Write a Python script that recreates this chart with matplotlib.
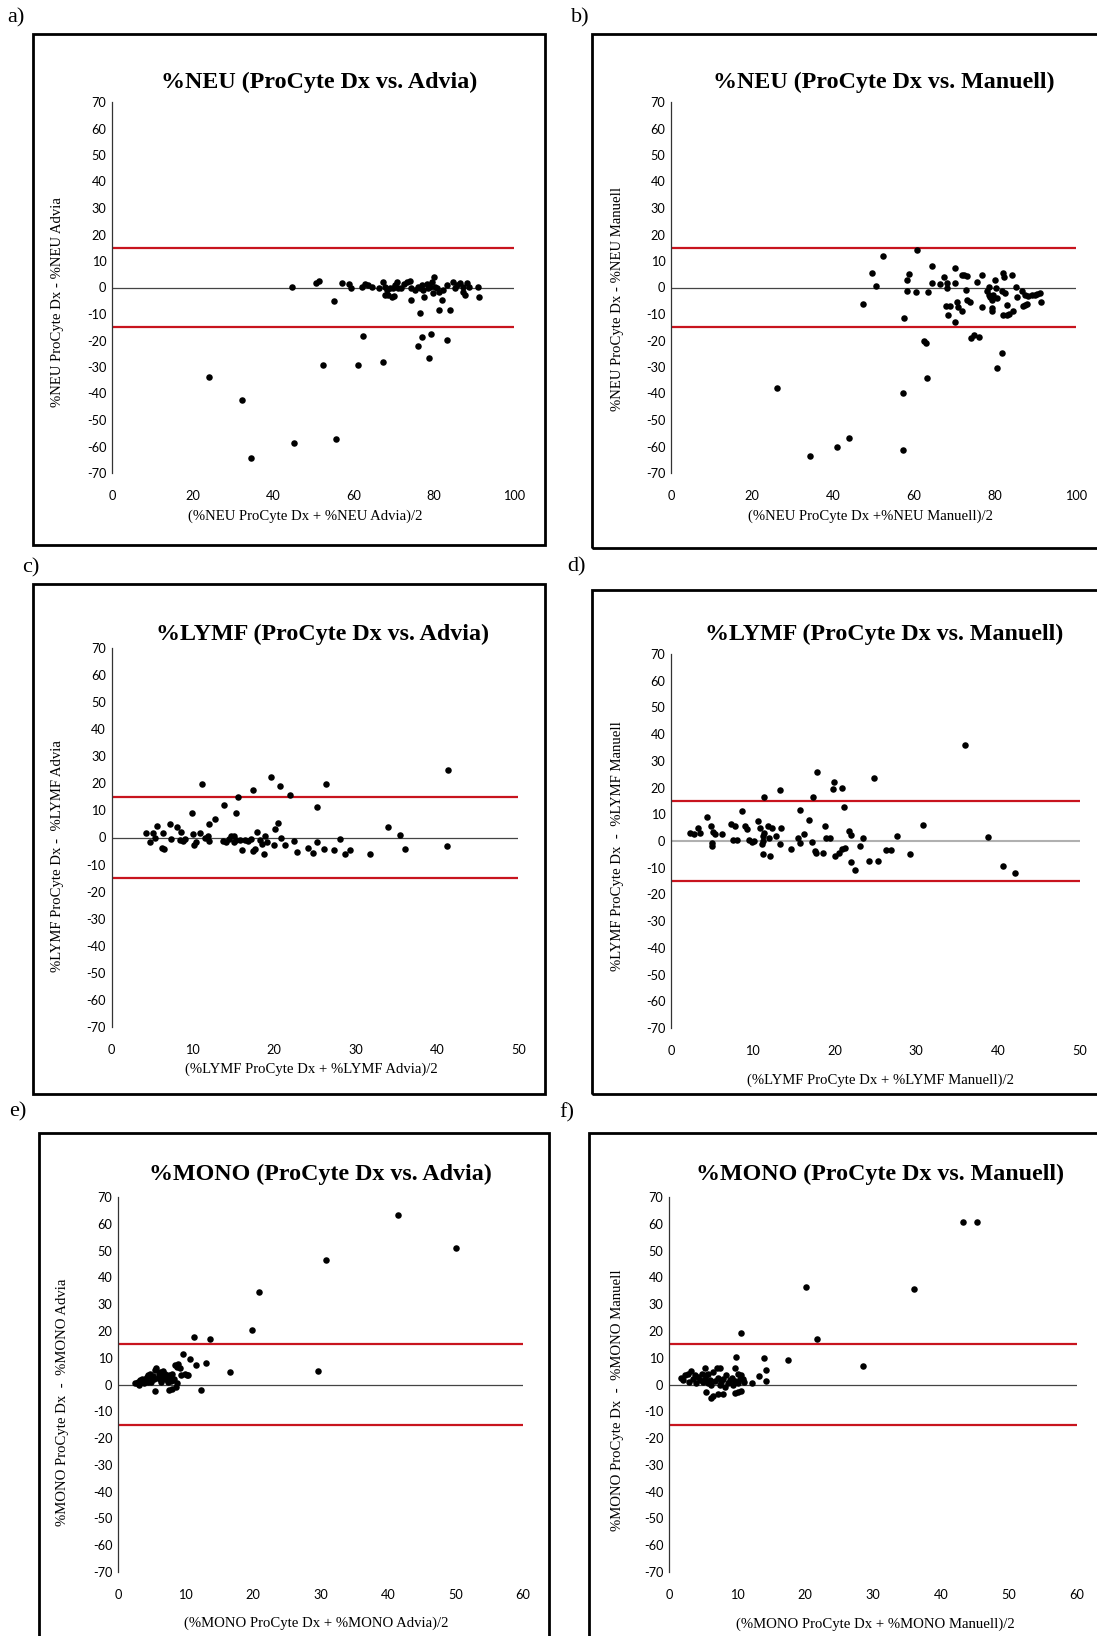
import matplotlib
matplotlib.use('Agg')
import matplotlib.pyplot as plt
from matplotlib.patches import Rectangle

W, H = 1097, 1636

# (mean of methods, difference) pairs
neu_advia = [
    (24.2, -33.9), (32.3, -42.3), (34.7, -64.3), (45.2, -58.8), (55.6, -57.1), (52.6, -29.2),
    (61.3, -29.2), (67.3, -28.2), (62.4, -18.2), (76.2, -22.0), (77.0, -18.6), (79.3, -17.7),
    (78.9, -26.7), (83.3, -19.8), (76.6, -9.7), (81.4, -8.5), (84.1, -8.5), (55.2, -5.1),
    (44.9, 0.1), (50.7, 1.8), (51.6, 2.5), (57.1, 1.7), (59.0, 1.4), (59.5, -0.3), (62.1, 0.3),
    (62.9, 1.2), (63.8, 0.9), (64.6, 0.3), (66.3, -0.3), (67.5, 2.2), (67.9, 0.3), (68.3, -0.9),
    (68.7, -2.8), (69.6, -3.5), (69.2, -0.1), (70.0, -0.3), (70.4, 0.9), (70.8, 2.2), (71.2, -0.3),
    (68.0, -3.0), (70.2, -3.2), (71.8, -0.1), (72.6, 1.2), (73.3, 2.2), (74.1, 2.5), (74.5, -0.3),
    (74.3, -4.7), (75.4, -0.9), (76.2, 0.3), (76.6, -0.3), (77.0, 0.9), (77.4, -0.9), (77.7, -3.5),
    (78.3, 1.2), (78.7, -0.3), (79.1, 0.3), (79.5, 2.2), (80.1, 4.1), (80.3, 0.3), (79.9, -2.2),
    (80.8, -0.3), (81.4, -1.6), (82.4, -0.9), (82.0, -4.7), (83.3, 0.9), (84.9, 2.2), (85.3, -0.3),
    (85.7, 0.9), (86.6, 1.6), (87.2, -1.6), (87.4, 0.3), (87.8, -2.8), (88.2, 1.6), (88.9, 0.3),
    (91.1, 0.2), (91.3, -3.5),
]

neu_manuell = [
    (47.3, -6.2), (49.6, 5.6), (50.6, 0.6), (52.4, 12.0), (57.6, -11.4), (58.2, 2.8), (58.8, 5.1),
    (58.2, -1.2), (60.5, -1.6), (60.7, 14.2), (62.5, -20.1), (63.0, -21.1), (63.5, -1.6), (64.4, 8.1),
    (64.4, 1.8), (66.3, 1.3), (67.4, 3.8), (68.1, 1.6), (68.1, -0.3), (70.0, 7.2), (70.1, 1.8),
    (71.8, 4.7), (72.3, 4.7), (73.0, 4.3), (72.8, -0.9), (73.0, -4.7), (73.8, -5.4), (67.9, -6.9),
    (68.9, -6.9), (68.5, -10.4), (70.0, -12.9), (70.7, -5.6), (70.9, -7.2), (71.8, -8.9), (74.0, -19.2),
    (74.8, -17.9), (76.1, -18.8), (75.5, 2.2), (76.7, 4.7), (76.7, -7.5), (78.1, -1.2), (78.4, -2.8),
    (78.8, -3.5), (79.2, -4.7), (78.6, 0.3), (79.6, -2.8), (80.0, 2.8), (80.2, -0.3), (80.4, -4.1),
    (79.2, -7.8), (79.2, -8.8), (81.9, 5.4), (82.1, 3.8), (81.7, -1.2), (82.5, -2.2), (82.9, -6.6),
    (81.9, -10.4), (82.9, -10.4), (83.5, -10.0), (84.3, 4.7), (84.5, -8.8), (85.2, 0.3), (85.4, -3.5),
    (86.6, -1.2), (86.8, -6.9), (87.4, -6.6), (88.0, -6.2), (87.4, -2.8), (88.2, -3.2), (89.1, -2.8),
    (89.9, -2.8), (90.3, -2.5), (91.1, -2.0), (91.4, -5.6), (81.8, -24.8), (26.1, -38.0), (34.4, -63.6),
    (41.0, -60.0), (44.0, -56.7), (57.4, -61.2), (57.4, -39.7), (63.1, -34.1), (80.4, -30.5),
]

lymf_advia = [
    (4.2, 1.6), (4.7, -1.8), (5.1, 1.6), (5.6, 4.3), (5.4, 0.0), (6.2, -3.7), (6.5, -4.3), (6.3, 1.6),
    (7.2, 4.9), (7.3, -0.4), (8.0, 3.7), (8.6, 2.2), (8.4, -0.9), (8.8, -1.2), (9.0, -0.4), (9.9, 9.2),
    (10.0, 1.2), (10.1, -2.8), (10.4, -1.8), (10.9, 1.6), (11.1, 19.7), (11.5, 0.0), (11.8, 0.6),
    (12.0, -1.2), (12.0, 4.9), (12.7, 7.0), (13.7, -1.2), (14.1, -1.8), (14.4, -0.4), (14.7, 0.4),
    (15.0, -1.8), (15.1, 0.4), (15.3, -0.9), (13.8, 11.9), (15.3, 9.2), (15.5, 14.8), (16.0, -4.6),
    (15.8, -0.9), (16.4, -0.9), (16.8, -1.2), (17.2, -0.4), (17.4, -4.9), (17.6, -4.1), (17.9, 2.1),
    (18.2, -0.9), (18.5, -2.5), (18.7, -6.2), (18.9, 0.4), (19.1, -1.8), (17.4, 17.6), (19.6, 22.5),
    (20.0, -2.8), (20.1, 3.1), (20.5, 5.3), (20.7, 19.1), (20.8, 0.0), (21.3, -2.8), (21.9, 15.7),
    (22.4, -1.2), (22.8, -5.3), (24.2, -3.7), (24.8, -5.8), (25.2, 11.4), (25.2, -1.8), (26.1, -4.1),
    (26.4, 19.7), (27.4, -4.7), (28.1, -0.6), (28.7, -6.2), (29.3, -4.6), (31.8, -6.2), (34.0, 3.7),
    (35.4, 0.9), (36.1, -4.1), (41.3, 25.1), (41.2, -3.2),
]

lymf_manuell = [
    (2.3, 2.9), (2.8, 2.5), (3.3, 5.0), (3.5, 3.1), (4.4, 9.0), (4.9, 5.6), (5.1, 3.4), (5.0, -0.6),
    (5.0, -1.9), (5.4, 2.5), (6.3, 2.8), (7.4, 6.3), (7.8, 5.6), (7.6, 0.4), (8.1, 0.4), (8.7, 11.3),
    (9.1, 5.6), (9.3, 4.4), (9.5, 0.4), (9.9, -0.4), (10.2, 0.0), (10.7, 7.5), (10.9, 5.0), (11.1, -1.3),
    (11.2, 1.9), (11.3, 0.0), (11.4, 3.1), (11.2, -5.0), (12.1, -5.6), (11.9, 5.6), (12.4, 5.0),
    (12.0, 1.3), (12.9, 1.9), (13.3, -1.3), (13.5, 5.0), (11.4, 16.6), (13.3, 19.1), (14.7, -2.9),
    (15.6, 1.3), (15.8, -0.6), (16.3, 2.5), (15.8, 11.6), (16.9, 7.8), (17.4, 16.6), (17.3, -0.4),
    (17.6, -3.8), (17.8, -4.6), (18.6, -4.4), (18.8, 5.6), (19.0, 1.3), (19.5, 1.3), (19.8, 19.6),
    (20.9, 20.0), (20.1, -5.6), (20.5, -4.4), (20.9, -3.1), (21.3, -2.5), (21.2, 12.8), (21.8, 3.8),
    (22.0, 2.1), (22.0, -7.9), (22.5, -10.9), (23.1, -1.9), (23.5, 1.3), (24.2, -7.5), (25.3, -7.5),
    (26.3, -3.4), (26.9, -3.4), (27.7, 1.9), (29.3, -5.0), (30.8, 6.0), (17.9, 25.9), (20.0, 22.2),
    (24.9, 23.7), (36.0, 35.8), (38.8, 1.4), (40.6, -9.2), (42.1, -12.0),
]

mono_advia = [
    (9.7, 11.3), (10.7, 9.7), (11.5, 7.2), (13.0, 8.1), (16.6, 4.7), (12.3, -2.1), (5.5, -2.5),
    (7.5, -2.1), (8.0, -1.5), (8.7, 0.4), (8.6, -0.9), (11.3, 17.7), (13.7, 17.0), (19.9, 20.3),
    (20.9, 34.4), (29.7, 5.2), (30.8, 46.3), (41.5, 63.2), (50.1, 50.9),
    (2.5, 0.7), (3.0, 1.0), (3.3, 1.6), (3.5, 2.2), (3.8, 1.2), (4.0, 2.0), (4.3, 2.9), (4.5, 3.5),
    (4.8, 4.1), (5.0, 2.5), (5.2, 3.2), (5.5, 5.3), (5.7, 6.2), (6.0, 4.1), (6.2, 2.2), (6.5, 3.5),
    (6.7, 5.0), (7.0, 4.1), (7.2, 2.9), (7.5, 3.5), (7.7, 2.2), (8.0, 4.1), (8.2, 1.6), (8.5, 7.2),
    (8.7, 6.6), (8.9, 7.8), (9.2, 6.0), (9.4, 3.5), (9.9, 4.1), (10.2, 3.5), (10.4, 3.7),
    (2.8, 0.4), (3.1, 0.0), (3.9, 0.4), (4.4, 1.0), (4.9, 1.0), (5.4, 2.0), (5.9, 2.5), (6.4, 1.0),
    (6.9, 2.2), (7.4, 1.0), (7.8, 1.2), (8.3, 2.2), (6.2, 4.7),
]

mono_manuell = [
    (9.9, 10.3), (13.9, 10.0), (17.5, 9.3), (14.3, 5.3), (13.3, 3.2), (14.3, 1.2), (12.2, 0.7),
    (10.9, 2.0), (11.1, 1.0), (10.6, -2.5), (10.1, -2.7), (9.7, -3.0), (5.5, -2.7), (6.5, -4.2),
    (7.2, -3.7), (7.9, -3.4), (6.2, -5.0), (7.5, 6.2), (7.0, 6.0), (6.5, 4.7), (9.7, 6.2), (10.1, 4.1),
    (10.6, 3.5), (10.6, 19.4), (21.7, 17.0), (20.1, 36.3), (28.6, 6.8), (36.1, 35.6), (43.2, 60.5),
    (45.3, 60.5),
    (1.7, 2.5), (2.1, 1.6), (2.4, 3.5), (2.8, 4.1), (3.0, 1.0), (3.3, 5.0), (3.5, 2.2), (3.8, 3.5),
    (4.0, 0.4), (4.3, 2.9), (4.5, 1.6), (4.8, 4.1), (5.0, 1.0), (5.3, 2.2), (5.5, 3.5), (5.7, 0.4),
    (6.0, 1.6), (6.2, -0.2), (6.7, 1.2), (7.2, 2.5), (7.5, -0.2), (7.7, 1.0), (7.9, 2.0), (8.2, -0.9),
    (8.4, 3.5), (8.7, 0.4), (8.9, 1.6), (9.2, 2.5), (9.4, -0.2), (9.7, 1.2), (10.1, 0.4), (10.4, 2.2),
    (5.7, 4.1), (5.3, 6.0),
]

upper_limit = 15.0
lower_limit = -15.0
y_ticks = list(range(-70, 71, 10))

serif = 'Liberation Serif'
sans = 'Lato'
red = '#c8141e'

plt.rcParams['axes.unicode_minus'] = False

fig = plt.figure(figsize=(W / 100, H / 100), dpi=100)
fig.patch.set_facecolor('white')


def fx(x):
    return x / W


def fy(y):
    return 1 - y / H


def draw_panel(p):
    # 外框
    x0, y0, x1, y1 = p['box']
    fig.patches.append(Rectangle((fx(x0), fy(y1)), fx(x1 - x0), (y1 - y0) / H,
                                 transform=fig.transFigure, fill=False,
                                 lw=2.0, ec='black', zorder=0))
    fig.text(fx(p['letter_xy'][0]), fy(p['letter_xy'][1]), p['letter'],
             family=serif, fontsize=16, ha='left', va='center')

    a0, b0, a1, b1 = p['ax']
    ax = fig.add_axes([fx(a0), fy(b1), fx(a1 - a0), (b1 - b0) / H])
    ax.set_xlim(0, p['xmax'])
    ax.set_ylim(-70, 70)
    for s in ['top', 'right', 'bottom']:
        ax.spines[s].set_visible(False)
    ax.spines['left'].set_color('#333333')
    ax.spines['left'].set_linewidth(0.9)
    ax.set_yticks(y_ticks)
    ax.set_xticks(range(0, p['xmax'] + 1, p['xstep']))
    ax.tick_params(length=0, labelsize=9.2)
    ax.tick_params(axis='x', pad=12)
    ax.tick_params(axis='y', pad=4)
    for lab in ax.get_xticklabels() + ax.get_yticklabels():
        lab.set_family(sans)

    ax.axhline(0, color=p['zero_color'], lw=p['zero_lw'], zorder=1)
    ax.axhline(upper_limit, color=red, lw=1.6, zorder=1)
    ax.axhline(lower_limit, color=red, lw=1.6, zorder=1)

    xs, ys = zip(*p['pts'])
    ax.scatter(xs, ys, s=22, c='black', linewidths=0, zorder=3, clip_on=False)

    fig.text(fx(p['title_xy'][0]), fy(p['title_xy'][1]), p['title'],
             family=serif, fontweight='bold', fontsize=17.3, ha='center', va='center')
    fig.text(fx(p['ylabel_xy'][0]), fy(p['ylabel_xy'][1]), p['ylabel'],
             family=serif, fontsize=10.6, rotation=90, ha='center', va='center')
    fig.text(fx(p['xlabel_xy'][0]), fy(p['xlabel_xy'][1]), p['xlabel'],
             family=serif, fontsize=10.6, ha='center', va='center')


panels = [
    dict(letter='a)', letter_xy=(7, 18), box=(33, 34, 545, 545), ax=(112, 102, 514, 473),
         xmax=100, xstep=20, pts=neu_advia,
         title='%NEU (ProCyte Dx vs. Advia)', title_xy=(319, 82),
         ylabel='%NEU ProCyte Dx - %NEU Advia', ylabel_xy=(58, 302),
         xlabel='(%NEU ProCyte Dx + %NEU Advia)/2', xlabel_xy=(305, 516),
         zero_color='#444444', zero_lw=0.9),
    dict(letter='b)', letter_xy=(571, 18), box=(592, 34, 1115, 548), ax=(671, 102, 1076, 473),
         xmax=100, xstep=20, pts=neu_manuell,
         title='%NEU (ProCyte Dx vs. Manuell)', title_xy=(884, 82),
         ylabel='%NEU ProCyte Dx - %NEU Manuell', ylabel_xy=(618, 299),
         xlabel='(%NEU ProCyte Dx +%NEU Manuell)/2', xlabel_xy=(871, 516),
         zero_color='#444444', zero_lw=0.9),
    dict(letter='c)', letter_xy=(22, 568), box=(33, 584, 545, 1094), ax=(111.5, 648, 518.4, 1027),
         xmax=50, xstep=10, pts=lymf_advia,
         title='%LYMF (ProCyte Dx vs. Advia)', title_xy=(322, 634),
         ylabel='%LYMF ProCyte Dx -  %LYMF Advia', ylabel_xy=(58, 856),
         xlabel='(%LYMF ProCyte Dx + %LYMF Advia)/2', xlabel_xy=(311, 1069),
         zero_color='#444444', zero_lw=0.9),
    dict(letter='d)', letter_xy=(567, 567), box=(592, 590, 1115, 1094), ax=(671, 654, 1079.6, 1028),
         xmax=50, xstep=10, pts=lymf_manuell,
         title='%LYMF (ProCyte Dx vs. Manuell)', title_xy=(884, 634),
         ylabel='%LYMF ProCyte Dx  -  %LYMF Manuell', ylabel_xy=(617, 846),
         xlabel='(%LYMF ProCyte Dx + %LYMF Manuell)/2', xlabel_xy=(880, 1080),
         zero_color='#b0b0b0', zero_lw=1.5),
    dict(letter='e)', letter_xy=(9, 1112), box=(39, 1133, 549, 1660), ax=(118, 1197, 523, 1572),
         xmax=60, xstep=10, pts=mono_advia,
         title='%MONO (ProCyte Dx vs. Advia)', title_xy=(320, 1174),
         ylabel='%MONO ProCyte Dx  -  %MONO Advia', ylabel_xy=(63, 1402),
         xlabel='(%MONO ProCyte Dx + %MONO Advia)/2', xlabel_xy=(316, 1623),
         zero_color='#444444', zero_lw=0.9),
    dict(letter='f)', letter_xy=(559, 1113), box=(589, 1133, 1115, 1660), ax=(669, 1197, 1077, 1572),
         xmax=60, xstep=10, pts=mono_manuell,
         title='%MONO (ProCyte Dx vs. Manuell)', title_xy=(880, 1174),
         ylabel='%MONO ProCyte Dx  -  %MONO Manuell', ylabel_xy=(617, 1400),
         xlabel='(%MONO ProCyte Dx + %MONO Manuell)/2', xlabel_xy=(875, 1624),
         zero_color='#444444', zero_lw=0.9),
]

for p in panels:
    draw_panel(p)

fig.savefig('out.png', dpi=100, facecolor='white')
plt.close(fig)
